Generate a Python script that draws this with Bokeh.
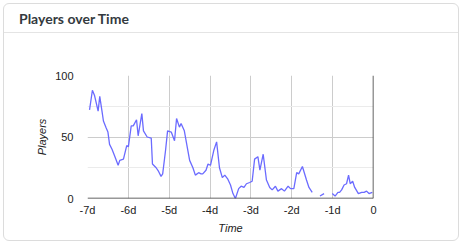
import numpy as np
from bokeh.plotting import figure
from bokeh.layouts import column
from bokeh.models import FixedTicker, Span, InlineStyleSheet, Div
from bokeh.embed import file_html
from bokeh.resources import INLINE

# time in days before now, players (None = no data)
days = [-6.95, -6.88, -6.83, -6.74, -6.70, -6.65, -6.61, -6.55, -6.50, -6.46,
        -6.40, -6.34, -6.25, -6.21, -6.12, -6.04, -6.00, -5.93, -5.88, -5.80,
        -5.76, -5.67, -5.63, -5.54, -5.44, -5.41, -5.32, -5.26, -5.20, -5.16,
        -5.09, -5.04, -4.95, -4.87, -4.82, -4.75, -4.71, -4.63, -4.56, -4.50,
        -4.42, -4.36, -4.28, -4.22, -4.18, -4.10, -4.05, -3.99, -3.91, -3.84,
        -3.77, -3.70, -3.64, -3.57, -3.50, -3.44, -3.38, -3.30, -3.24, -3.17,
        -3.11, -3.03, -2.97, -2.91, -2.83, -2.78, -2.70, -2.62, -2.54, -2.48,
        -2.40, -2.34, -2.25, -2.18, -2.09, -2.03, -1.95, -1.88, -1.83, -1.74,
        -1.64, -1.58, -1.50, -1.40, -1.31, -1.21, -1.10, -1.01, -0.94, -0.87,
        -0.83, -0.78, -0.72, -0.66, -0.61, -0.57, -0.51, -0.46, -0.37, -0.29,
        -0.23, -0.17, -0.11, -0.03]
players = [72, 88, 84, 71, 83, 72, 63, 58, 54, 44,
           40, 35, 27, 31, 32, 43, 42, 59, 59, 64,
           51, 69, 55, 50, 49, 28, 25, 22, 18, 20,
           39, 55, 54, 47, 65, 58, 61, 55, 42, 31,
           25, 19, 21, 20, 20, 23, 28, 27, 39, 46,
           25, 17, 19, 16, 11, 4, 0, 8, 10, 9,
           12, 13, 14, 32, 34, 23, 36, 15, 9, 7,
           10, 6, 8, 6, 10, 8, 8, 21, 20, 26,
           15, 9, 5, None, 2, 4, None, 4, 2, 5,
           5, 7, 11, 12, 19, 12, 14, 9, 4, 5,
           5, 6, 4, 5]
x_ticks = [-7, -6, -5, -4, -3, -2, -1, 0]
x_tick_labels = ["-7d", "-6d", "-5d", "-4d", "-3d", "-2d", "-1d", "0"]
y_ticks = [0, 50, 100]
y_minor_ticks = [25, 75]
title_text = "Players over Time"

y = np.array([np.nan if v is None else v for v in players], dtype=float)

W, H = 462, 243
HEADER = 33
FL, FR, FT, FB = 87, 373, 75, 198  # frame edges on the page

card_css = InlineStyleSheet(css="""
:host {
  position: relative;
  background: #ffffff;
}
:host::before {
  content: "";
  position: absolute;
  left: 3px;
  top: 3px;
  right: 3px;
  bottom: 2px;
  border: 1px solid #dcdcdc;
  border-radius: 6px;
  pointer-events: none;
  z-index: 10;
}
:host::after {
  content: "";
  position: absolute;
  left: 4px;
  right: 4px;
  top: 32px;
  height: 1px;
  background: #e4e4e4;
  pointer-events: none;
  z-index: 10;
}
""")

header = Div(text=title_text, width=W, height=HEADER, margin=0,
             styles={"font-family": "Lato", "font-weight": "700", "font-size": "14px",
                     "color": "#343a40", "line-height": "37px", "padding-left": "19px",
                     "box-sizing": "border-box", "background": "#ffffff"})

p = figure(width=W, height=H - HEADER, output_backend="svg", toolbar_location=None,
           x_range=(-7, 0), y_range=(0, 100), margin=0,
           min_border_left=FL, min_border_right=W - FR, min_border_top=FT - HEADER,
           min_border_bottom=H - FB)
p.background_fill_color = "white"
p.border_fill_color = "white"
p.outline_line_color = None

p.line(days, y, line_color="#6b6bff", line_width=1.3)

font = "Liberation Sans"
p.xaxis.ticker = FixedTicker(ticks=x_ticks)
p.xaxis.major_label_overrides = {t: l for t, l in zip(x_ticks, x_tick_labels)}
p.yaxis.ticker = FixedTicker(ticks=y_ticks, minor_ticks=y_minor_ticks)
for ax in (p.xaxis, p.yaxis):
    ax.axis_line_color = None
    ax.major_tick_line_color = None
    ax.minor_tick_line_color = None
    ax.major_tick_out = 0
    ax.major_tick_in = 0
    ax.minor_tick_out = 0
    ax.minor_tick_in = 0
    ax.major_label_text_font = font
    ax.major_label_text_font_size = "11px"
    ax.major_label_text_color = "#222222"
    ax.axis_label_text_font = font
    ax.axis_label_text_font_size = "11px"
    ax.axis_label_text_font_style = "italic"
    ax.axis_label_text_color = "#222222"
p.xaxis.axis_label = "Time"
p.yaxis.axis_label = "Players"
p.xaxis.major_label_standoff = 5
p.yaxis.major_label_standoff = 14
p.xaxis.axis_label_standoff = 3
p.yaxis.axis_label_standoff = 4

p.xgrid.grid_line_color = "#cccccc"
p.ygrid.grid_line_color = "#cccccc"
p.ygrid.minor_grid_line_color = "#ebebeb"

p.add_layout(Span(location=0, dimension="width", line_color="#333333", line_width=1.5))
p.add_layout(Span(location=0, dimension="height", line_color="#333333", line_width=1.5))

layout = column(header, p, spacing=0, margin=0, stylesheets=[card_css])

open("out.html", "w").write(file_html(layout, INLINE))
